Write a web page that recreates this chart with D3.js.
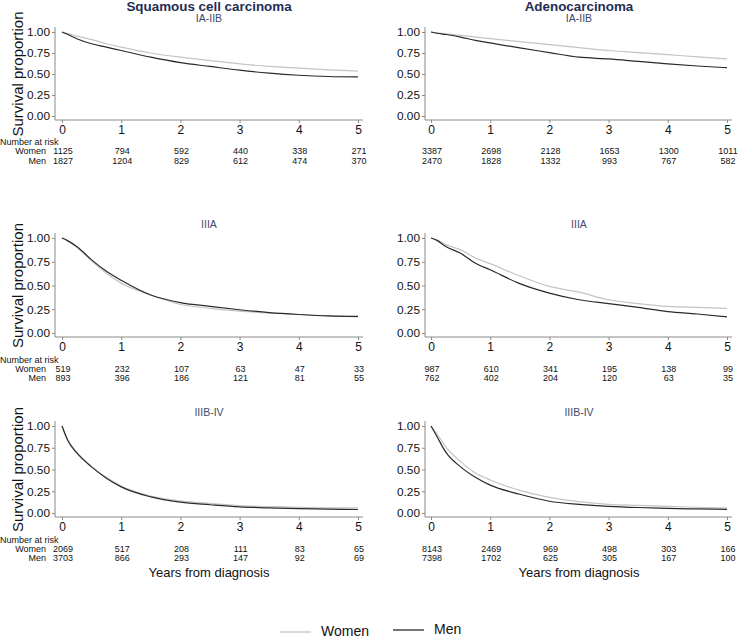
<!DOCTYPE html>
<html>
<head>
<meta charset="utf-8">
<script src="https://cdn.jsdelivr.net/npm/d3@7"></script>
<style>
  body { margin: 0; background: #fff; }
  svg { font-family: "Liberation Sans", Arial, sans-serif; }
</style>
</head>
<body>
<svg id="chart" width="738" height="637"></svg>
<script>
// time points (years) where the curves were read
var years = [0, 0.1, 0.25, 0.5, 0.75, 1, 1.5, 2, 2.5, 3, 3.5, 4, 4.5, 5];

// Squamous cell carcinoma
var sccEarlyWomen = [1, 0.98, 0.95, 0.91, 0.86, 0.82, 0.75, 0.70, 0.66, 0.62, 0.59, 0.57, 0.55, 0.535];
var sccEarlyMen   = [1, 0.97, 0.92, 0.86, 0.82, 0.78, 0.70, 0.635, 0.59, 0.545, 0.51, 0.485, 0.47, 0.465];
var sccIIIAWomen  = [1, 0.97, 0.90, 0.76, 0.63, 0.525, 0.40, 0.30, 0.26, 0.23, 0.21, 0.195, 0.18, 0.17];
var sccIIIAMen    = [1, 0.97, 0.91, 0.77, 0.65, 0.555, 0.40, 0.32, 0.28, 0.245, 0.215, 0.195, 0.18, 0.175];
var sccLateWomen  = [1, 0.84, 0.70, 0.53, 0.41, 0.31, 0.195, 0.14, 0.11, 0.085, 0.075, 0.065, 0.06, 0.06];
var sccLateMen    = [1, 0.83, 0.69, 0.53, 0.40, 0.30, 0.185, 0.125, 0.095, 0.07, 0.06, 0.05, 0.045, 0.04];

// Adenocarcinoma
var adcEarlyWomen = [1, 0.99, 0.98, 0.96, 0.94, 0.92, 0.885, 0.85, 0.815, 0.78, 0.755, 0.73, 0.705, 0.68];
var adcEarlyMen   = [1, 0.985, 0.97, 0.94, 0.90, 0.87, 0.81, 0.755, 0.70, 0.68, 0.65, 0.62, 0.595, 0.575];
var adcIIIAWomen  = [1, 0.98, 0.93, 0.875, 0.79, 0.73, 0.60, 0.49, 0.43, 0.35, 0.31, 0.28, 0.27, 0.26];
var adcIIIAMen    = [1, 0.975, 0.91, 0.84, 0.735, 0.665, 0.52, 0.42, 0.35, 0.31, 0.27, 0.225, 0.20, 0.17];
var adcLateWomen  = [1, 0.91, 0.76, 0.59, 0.46, 0.38, 0.26, 0.18, 0.13, 0.10, 0.088, 0.077, 0.066, 0.058];
var adcLateMen    = [1, 0.88, 0.70, 0.53, 0.41, 0.32, 0.215, 0.135, 0.10, 0.077, 0.063, 0.054, 0.047, 0.042];

// number at risk at years 0..5
var riskYears = [0, 1, 2, 3, 4, 5];
var sccEarlyRiskWomen = [1125, 794, 592, 440, 338, 271];
var sccEarlyRiskMen   = [1827, 1204, 829, 612, 474, 370];
var sccIIIARiskWomen  = [519, 232, 107, 63, 47, 33];
var sccIIIARiskMen    = [893, 396, 186, 121, 81, 55];
var sccLateRiskWomen  = [2069, 517, 208, 111, 83, 65];
var sccLateRiskMen    = [3703, 866, 293, 147, 92, 69];
var adcEarlyRiskWomen = [3387, 2698, 2128, 1653, 1300, 1011];
var adcEarlyRiskMen   = [2470, 1828, 1332, 993, 767, 582];
var adcIIIARiskWomen  = [987, 610, 341, 195, 138, 99];
var adcIIIARiskMen    = [762, 402, 204, 120, 63, 35];
var adcLateRiskWomen  = [8143, 2469, 969, 498, 303, 166];
var adcLateRiskMen    = [7398, 1702, 625, 305, 167, 100];

var yTicks = [0, 0.25, 0.5, 0.75, 1];
var columnTitles = ["Squamous cell carcinoma", "Adenocarcinoma"];
var stageLabels = ["IA-IIB", "IIIA", "IIIB-IV"];

var panels = [
  {col: 0, row: 0, women: sccEarlyWomen, men: sccEarlyMen, rw: sccEarlyRiskWomen, rm: sccEarlyRiskMen},
  {col: 0, row: 1, women: sccIIIAWomen, men: sccIIIAMen, rw: sccIIIARiskWomen, rm: sccIIIARiskMen},
  {col: 0, row: 2, women: sccLateWomen, men: sccLateMen, rw: sccLateRiskWomen, rm: sccLateRiskMen},
  {col: 1, row: 0, women: adcEarlyWomen, men: adcEarlyMen, rw: adcEarlyRiskWomen, rm: adcEarlyRiskMen},
  {col: 1, row: 1, women: adcIIIAWomen, men: adcIIIAMen, rw: adcIIIARiskWomen, rm: adcIIIARiskMen},
  {col: 1, row: 2, women: adcLateWomen, men: adcLateMen, rw: adcLateRiskWomen, rm: adcLateRiskMen}
];

// layout
var cols = [
  {axisX: 55, x0: 62, x1: 358, center: 209},
  {axisX: 425, x0: 431, x1: 727, center: 579}
];
var rows = [
  {sub: 22, top: 32, bottom: 116, axis: 120, tick: 131, nar: 142, w: 151, m: 161},
  {sub: 228, top: 238, bottom: 333, axis: 337, tick: 349, nar: 360, w: 369, m: 378},
  {sub: 416, top: 426, bottom: 513, axis: 517, tick: 529, nar: 540, w: 549, m: 558}
];

var womenColor = "#c4c4c4", menColor = "#2a2a2a", axisColor = "#8a8a8a";
var navy = "#1f2d55";

var svg = d3.select("#chart");

svg.selectAll(".coltitle")
  .data(columnTitles)
  .enter().append("text")
  .attr("x", function(d, i) { return cols[i].center; })
  .attr("y", 10.5)
  .attr("text-anchor", "middle")
  .style("font-size", "13.4px")
  .style("font-weight", "bold")
  .style("fill", navy)
  .text(function(d) { return d; });

panels.forEach(function(p) {
  var c = cols[p.col], r = rows[p.row];
  var x = d3.scaleLinear().domain([0, 5]).range([c.x0, c.x1]);
  var y = d3.scaleLinear().domain([0, 1]).range([r.bottom, r.top]);
  var g = svg.append("g");

  g.append("text")
    .attr("x", c.center).attr("y", r.sub)
    .attr("text-anchor", "middle")
    .style("font-size", "10.5px")
    .style("fill", "#3d4a6b")
    .text(stageLabels[p.row]);

  // y axis
  var yAxis = g.append("g")
    .attr("transform", "translate(" + c.axisX + ",0)")
    .call(d3.axisLeft(y).tickValues(yTicks).tickFormat(d3.format(".2f")).tickSize(3).tickSizeOuter(0));
  yAxis.select(".domain").attr("d", "M0," + (r.top - 5) + "V" + r.axis).attr("stroke", axisColor);
  yAxis.selectAll(".tick line").attr("stroke", axisColor);
  yAxis.selectAll(".tick text").attr("x", -5).style("font-size", "11.8px").style("font-family", "Liberation Sans, Arial, sans-serif").attr("fill", "#111");

  // x axis
  var xAxis = g.append("g")
    .attr("transform", "translate(0," + r.axis + ")")
    .call(d3.axisBottom(x).tickValues(riskYears).tickFormat(d3.format("d")).tickSize(3).tickSizeOuter(0));
  xAxis.select(".domain").attr("d", "M" + c.axisX + ",0H" + (c.x1 + 5)).attr("stroke", axisColor);
  xAxis.selectAll(".tick line").attr("stroke", axisColor);
  xAxis.selectAll(".tick text").attr("y", 5).style("font-size", "12px").style("font-family", "Liberation Sans, Arial, sans-serif").attr("fill", "#111");

  if (p.col === 0) {
    g.append("text")
      .attr("transform", "translate(23," + ((r.top + r.axis) / 2 - 2) + ") rotate(-90)")
      .attr("text-anchor", "middle")
      .style("font-size", "15px")
      .style("fill", "#111")
      .text("Survival proportion");
    g.append("text")
      .attr("x", 0).attr("y", r.nar + 3)
      .style("font-size", "9px").style("fill", "#111")
      .text("Number at risk");
    g.append("text")
      .attr("x", 46).attr("y", r.w + 3)
      .attr("text-anchor", "end")
      .style("font-size", "9px").style("fill", "#111")
      .text("Women");
    g.append("text")
      .attr("x", 46).attr("y", r.m + 3)
      .attr("text-anchor", "end")
      .style("font-size", "9px").style("fill", "#111")
      .text("Men");
  }

  [{vals: p.rw, yy: r.w}, {vals: p.rm, yy: r.m}].forEach(function(s) {
    g.selectAll(null)
      .data(s.vals)
      .enter().append("text")
      .attr("x", function(d, i) { return x(riskYears[i]) + 1; })
      .attr("y", s.yy + 3)
      .attr("text-anchor", "middle")
      .style("font-size", "9px")
      .style("fill", "#111")
      .text(function(d) { return d; });
  });

  var line = d3.line()
    .x(function(d, i) { return x(years[i]); })
    .y(function(d) { return y(d); })
    .curve(d3.curveMonotoneX);

  g.append("path").datum(p.women)
    .attr("d", line).attr("fill", "none")
    .attr("stroke", womenColor).attr("stroke-width", 1.2);
  g.append("path").datum(p.men)
    .attr("d", line).attr("fill", "none")
    .attr("stroke", menColor).attr("stroke-width", 1.2);

  if (p.row === 2) {
    g.append("text")
      .attr("x", c.center).attr("y", 577)
      .attr("text-anchor", "middle")
      .style("font-size", "13px").style("fill", "#111")
      .text("Years from diagnosis");
  }
});

// legend
var legendItems = [
  {label: "Women", color: womenColor, x: 280, y: 632},
  {label: "Men", color: menColor, x: 393, y: 630}
];
var lg = svg.selectAll(".legend")
  .data(legendItems)
  .enter().append("g");
lg.append("line")
  .attr("x1", function(d) { return d.x; })
  .attr("x2", function(d) { return d.x + 31; })
  .attr("y1", function(d) { return d.y; })
  .attr("y2", function(d) { return d.y; })
  .attr("stroke", function(d) { return d.color; })
  .attr("stroke-width", 1.3);
lg.append("text")
  .attr("x", function(d) { return d.x + 41; })
  .attr("y", function(d) { return d.y + 3.5; })
  .style("font-size", "14px")
  .style("fill", "#111")
  .text(function(d) { return d.label; });
</script>
</body>
</html>
